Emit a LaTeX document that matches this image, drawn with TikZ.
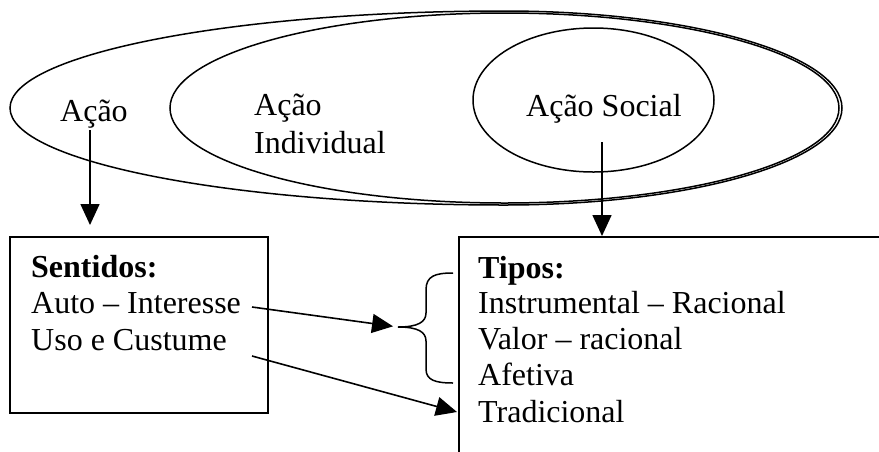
\documentclass[tikz,border=0pt]{standalone}
\usepackage{fontspec}
\setmainfont{Liberation Serif}
\usetikzlibrary{arrows.meta,shapes.geometric}
\tikzset{
  txt/.style={inner sep=0pt, anchor=base west, font=\fontsize{32}{36}\selectfont},
  btxt/.style={txt, font=\fontsize{32}{36}\selectfont\bfseries},
  shp/.style={draw, line width=1.5pt},
  arr/.style={line width=1.6pt, -{Triangle[length=21pt,width=19pt]}},
}
\begin{document}
\begin{tikzpicture}[x=1pt,y=1pt]
\useasboundingbox (0,0) rectangle (879,-451);
\clip (0,0) rectangle (879,-451);
% outer ellipse (Acao)
\draw[shp] (504.5,-11) arc[start angle=90, end angle=-90, x radius=337.5, y radius=97]
  arc[start angle=270, end angle=90, x radius=494.5, y radius=97] -- cycle;
% middle ellipse (Acao Individual)
\node[shp, ellipse, inner sep=0pt, minimum width=669pt, minimum height=190pt] (indiv) at (504.5,-108) {};
% small ellipse (Acao Social)
\node[shp, ellipse, inner sep=0pt, minimum width=241pt, minimum height=144pt] (social) at (593.5,-100) {};
% texts in ellipses
\node[txt] (acao) at (60,-121) {Ação};
\node[txt] (ind1) at (254,-115) {Ação};
\node[txt] (ind2) at (254,-153) {Individual};
\node[txt] (soc) at (526,-116) {Ação Social};
% boxes
\node[shp, line width=1.7pt, anchor=north west, minimum width=258pt, minimum height=176pt] (sbox) at (9,-236) {};
\node[shp, line width=1.7pt, anchor=north west, minimum width=500pt, minimum height=300pt] (tbox) at (458,-236) {};
% left box text
\node[btxt] (sent) at (31,-277) {Sentidos:};
\node[txt] (auto) at (31,-313) {Auto – Interesse};
\node[txt] (uso) at (31,-350) {Uso e Custume};
% right box text
\node[btxt] (tipos) at (478,-278) {Tipos:};
\node[txt] (instr) at (478,-313) {Instrumental – Racional};
\node[txt] (valor) at (478,-349) {Valor – racional};
\node[txt] (afet) at (478,-385) {Afetiva};
\node[txt] (trad) at (478,-422) {Tradicional};
% brace
\coordinate (bracetip) at (398,-327);
\draw[line width=1.5pt] (453,-273) .. controls (435,-273) and (426,-276) .. (426,-290)
  -- (426,-313) .. controls (426,-322) and (418,-327) .. (bracetip)
  .. controls (418,-327) and (426,-332) .. (426,-341)
  -- (426,-369) .. controls (426,-380) and (435,-383) .. (453,-383);
% connector anchors
\coordinate (a1) at (90,-130);
\coordinate (a2) at (602,-142);
\coordinate (a3) at (252,-307);
\coordinate (a4) at (252,-356);
\coordinate (t4) at (457,-412);
% arrows
\draw[arr, shorten >=11pt] (a1) -- (a1 |- sbox.north);
\draw[arr] (a2) -- (a2 |- tbox.north);
\draw[arr, shorten >=5pt] (a3) -- (bracetip);
\draw[arr] (a4) -- (t4);
\end{tikzpicture}
\end{document}
